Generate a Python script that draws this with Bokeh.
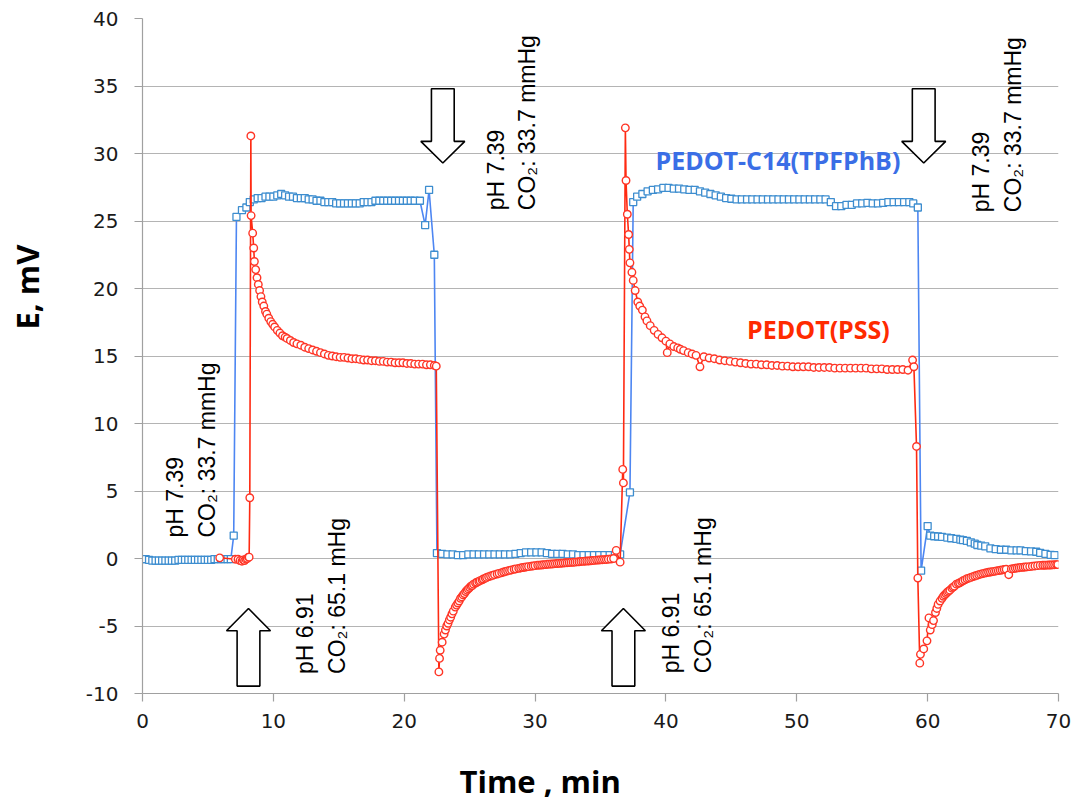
import math
from bokeh.plotting import figure
from bokeh.models import Range1d, FixedTicker, Title, LinearAxis
from bokeh.core.properties import value
from bokeh.embed import file_html
from bokeh.resources import INLINE

# ---------------- data ----------------
blue_t = [0.0, 0.25, 0.5, 0.75, 1.0, 1.25, 1.5, 1.75, 2.0, 2.25, 2.5, 2.75, 3.0, 3.25, 3.5, 3.75,
          4.0, 4.25, 4.5, 4.75, 5.0, 5.25, 5.5, 5.75, 6.0, 6.25, 6.5, 6.75,
          6.97, 7.18, 7.6, 7.94, 8.2, 8.5, 8.8, 9.1, 9.4, 9.7, 10.0, 10.3, 10.6, 10.9, 11.2, 11.5,
          11.8, 12.1, 12.4, 12.7, 13.0, 13.3, 13.6, 13.9, 14.2, 14.5, 14.8, 15.1, 15.4, 15.7, 16.0,
          16.3, 16.6, 16.9, 17.2, 17.5, 17.8, 18.1, 18.4, 18.7, 19.0, 19.3, 19.6, 19.9, 20.2, 20.5,
          20.8, 21.2, 21.6, 21.9, 22.3, 22.5,
          22.9, 23.3, 23.7, 24.1, 24.5, 24.9, 25.3, 25.7, 26.1, 26.5, 26.9, 27.3, 27.7, 28.1, 28.5,
          28.9, 29.3, 29.7, 30.1, 30.5, 30.9, 31.3, 31.7, 32.1, 32.5, 32.9, 33.3, 33.7, 34.1, 34.5,
          34.9, 35.3, 35.7, 36.1, 36.5,
          37.25, 37.5, 37.8, 38.2, 38.6, 39.0, 39.4, 39.8, 40.2, 40.6, 41.0, 41.4, 41.8, 42.2, 42.6,
          43.0, 43.4, 43.8, 44.2, 44.6, 45.0, 45.4, 45.8, 46.2, 46.6, 47.0, 47.4, 47.8, 48.2, 48.6,
          49.0, 49.4, 49.8, 50.2, 50.6, 51.0, 51.4, 51.8, 52.2, 52.6, 53.0, 53.4, 53.8, 54.2, 54.6,
          55.0, 55.4, 55.8, 56.2, 56.6, 57.0, 57.4, 57.8, 58.2, 58.6, 58.9, 59.25,
          59.5, 60.0, 60.2, 60.5, 60.8, 61.1, 61.5, 61.8, 62.2, 62.5, 62.7, 63.0, 63.3, 63.6, 63.8,
          64.1, 64.4, 64.8, 65.2, 65.6, 66.0, 66.4, 66.8, 67.1, 67.5, 67.9, 68.3, 68.6, 69.0, 69.4, 69.7]
blue_e = [-0.05, -0.05, -0.1, -0.15, -0.15, -0.15, -0.15, -0.15, -0.15, -0.15, -0.15, -0.1, -0.1, -0.1, -0.1, -0.1,
          -0.1, -0.1, -0.1, -0.1, -0.1, -0.1, -0.05, -0.05, -0.05, -0.05, -0.05, -0.05,
          1.7, 25.3, 25.8, 26.0, 26.4, 26.6, 26.7, 26.7, 26.8, 26.8, 26.8, 26.9, 27.0, 26.9, 26.8, 26.8,
          26.7, 26.7, 26.7, 26.6, 26.6, 26.5, 26.5, 26.4, 26.4, 26.4, 26.3, 26.3, 26.3, 26.3, 26.3,
          26.3, 26.3, 26.4, 26.4, 26.4, 26.5, 26.5, 26.5, 26.5, 26.5, 26.5, 26.5, 26.5, 26.5, 26.5,
          26.5, 26.5, 24.7, 27.3, 22.5, 0.4,
          0.35, 0.3, 0.3, 0.25, 0.25, 0.3, 0.3, 0.3, 0.3, 0.3, 0.3, 0.3, 0.3, 0.3, 0.35,
          0.4, 0.45, 0.45, 0.45, 0.45, 0.4, 0.35, 0.35, 0.35, 0.3, 0.3, 0.25, 0.25, 0.25, 0.25,
          0.25, 0.25, 0.25, 0.25, 0.3,
          4.9, 26.4, 26.8, 27.0, 27.2, 27.3, 27.35, 27.45, 27.45, 27.4, 27.4, 27.35, 27.3, 27.3, 27.2,
          27.1, 27.0, 26.9, 26.8, 26.7, 26.65, 26.6, 26.6, 26.6, 26.6, 26.6, 26.6, 26.6, 26.6, 26.6,
          26.6, 26.6, 26.6, 26.6, 26.6, 26.6, 26.6, 26.6, 26.6, 26.4, 26.1, 26.1, 26.2, 26.2, 26.3,
          26.3, 26.35, 26.3, 26.3, 26.35, 26.4, 26.4, 26.4, 26.4, 26.4, 26.3, 26.0,
          -0.9, 2.4, 1.7, 1.65, 1.63, 1.6, 1.55, 1.5, 1.45, 1.4, 1.36, 1.3, 1.2, 1.1, 1.0,
          0.95, 0.9, 0.75, 0.7, 0.65, 0.65, 0.6, 0.6, 0.6, 0.55, 0.53, 0.5, 0.42, 0.35, 0.27, 0.25]

red_t = [5.9, 7.1, 7.3, 7.45, 7.6, 7.7, 7.8, 7.9, 8.0, 8.1, 8.15, 8.2, 8.28, 8.3, 8.42, 8.5, 8.55,
         8.65, 8.75, 8.85, 8.95, 9.05, 9.15, 9.27, 9.4, 9.5, 9.65, 9.8, 9.95, 10.1, 10.3, 10.5, 10.7,
         10.9, 11.05, 11.3, 11.55, 11.8, 12.1, 12.4, 12.7, 13.0, 13.3, 13.6, 13.9, 14.2, 14.5, 14.8,
         15.1, 15.4, 15.7, 16.0, 16.3, 16.6, 16.9, 17.2, 17.5, 17.8, 18.1, 18.4, 18.7, 19.0, 19.3,
         19.6, 19.9, 20.2, 20.5, 20.8, 21.1, 21.4, 21.7, 22.0, 22.3, 22.45,
         22.65, 22.7, 22.75, 22.9, 23.05, 23.15, 23.25, 23.35, 23.45, 23.55, 23.65, 23.75, 23.9, 24.0,
         24.1, 24.2, 24.3, 24.4, 24.5, 24.6, 24.7, 24.8, 24.9, 25.0, 25.1, 25.2, 25.3, 25.45, 25.55,
         25.7, 25.8, 25.95, 26.05, 26.2, 26.3, 26.45, 26.6, 26.75, 26.9, 27.1, 27.25, 27.45, 27.6,
         27.75, 27.9, 28.05, 28.2, 28.4, 28.55, 28.75, 28.9, 29.05, 29.2, 29.35, 29.5, 29.7, 29.85,
         30.0, 30.2, 30.35, 30.5, 30.65, 30.8, 30.95, 31.1, 31.25, 31.4, 31.55, 31.7, 31.85, 32.0,
         32.15, 32.3, 32.45, 32.6, 32.75, 32.9, 33.05, 33.2, 33.35, 33.5, 33.65, 33.8, 33.95, 34.1,
         34.25, 34.4, 34.55, 34.7, 34.85, 35.0, 35.15, 35.3, 35.45, 35.6, 35.8, 36.0, 36.2, 36.5,
         36.7, 36.75, 36.9, 36.95, 37.05, 37.15, 37.2, 37.25, 37.4, 37.5, 37.65, 37.85, 38.0, 38.2,
         38.4, 38.55, 38.8, 39.1, 39.4, 39.7, 40.0, 40.1, 40.3, 40.6, 40.9, 41.1, 41.35, 41.7, 42.0,
         42.3, 42.6, 42.9, 43.3, 43.7, 44.1, 44.5, 44.9, 45.3, 45.7, 46.1, 46.5, 46.9, 47.3, 47.7,
         48.1, 48.5, 48.9, 49.3, 49.7, 50.1, 50.5, 50.9, 51.3, 51.7, 52.1, 52.5, 52.9, 53.3, 53.7,
         54.1, 54.5, 54.9, 55.3, 55.7, 56.1, 56.5, 56.9, 57.3, 57.7, 58.1, 58.5, 58.85, 58.95,
         59.15, 59.25, 59.4, 59.45, 59.7, 59.95, 60.1, 60.2, 60.35, 60.45, 60.6, 60.7, 60.8, 60.95,
         61.1, 61.2, 61.3, 61.4, 61.5, 61.6, 61.7, 61.85, 61.95, 62.05, 62.2, 62.35, 62.45, 62.6,
         62.7, 62.85, 63.0, 63.15, 63.3, 63.45, 63.6, 63.75, 63.9, 64.05, 64.2, 64.35, 64.5, 64.65,
         64.8, 64.95, 65.1, 65.25, 65.4, 65.55, 65.7, 65.85, 66.0, 66.2, 66.4, 66.55, 66.7, 66.85,
         67.0, 67.15, 67.3, 67.45, 67.6, 67.8, 68.0, 68.2, 68.4, 68.6, 68.8, 68.95, 69.1, 69.25,
         69.4, 69.55, 69.7, 69.85, 69.95]
red_e = [0.05, -0.05, -0.05, -0.15, -0.2, -0.1, -0.15, -0.05, 0.0, 0.1, 0.1, 4.5, 31.3, 25.4, 24.1, 23.0, 22.0,
         21.4, 20.8, 20.3, 19.85, 19.4, 19.0, 18.7, 18.3, 18.1, 17.8, 17.55, 17.35, 17.15, 16.9, 16.7, 16.5,
         16.4, 16.3, 16.15, 16.0, 15.9, 15.8, 15.65, 15.55, 15.45, 15.35, 15.25, 15.15, 15.05, 15.0, 14.95,
         14.9, 14.9, 14.85, 14.8, 14.8, 14.75, 14.7, 14.7, 14.65, 14.65, 14.6, 14.6, 14.55, 14.55, 14.5,
         14.5, 14.5, 14.45, 14.45, 14.4, 14.4, 14.4, 14.35, 14.35, 14.3, 14.25,
         -8.4, -7.4, -6.8, -6.2, -5.6, -5.3, -5.0, -4.8, -4.55, -4.35, -4.1, -3.9, -3.6, -3.45,
         -3.3, -3.15, -2.95, -2.85, -2.7, -2.6, -2.45, -2.35, -2.25, -2.15, -2.05, -2.0, -1.9, -1.82, -1.76,
         -1.7, -1.64, -1.58, -1.52, -1.46, -1.4, -1.35, -1.3, -1.25, -1.2, -1.15, -1.1, -1.05, -1.0,
         -0.96, -0.92, -0.88, -0.85, -0.8, -0.77, -0.73, -0.7, -0.67, -0.65, -0.62, -0.6, -0.57, -0.55,
         -0.53, -0.5, -0.49, -0.48, -0.46, -0.45, -0.43, -0.42, -0.41, -0.4, -0.38, -0.37, -0.36, -0.35,
         -0.34, -0.32, -0.31, -0.3, -0.29, -0.28, -0.27, -0.25, -0.24, -0.22, -0.21, -0.2, -0.19, -0.18,
         -0.17, -0.15, -0.14, -0.12, -0.11, -0.1, -0.09, -0.08, -0.07, -0.05, -0.04, 0.0, 0.6, -0.27,
         6.6, 5.6, 31.9, 28.0, 25.5, 24.0, 22.9, 21.9, 21.2, 20.6, 19.85, 19.0, 18.7, 18.4,
         17.9, 17.6, 17.25, 16.9, 16.6, 16.35, 16.1, 15.25, 15.9, 15.7, 15.6, 15.5, 15.4, 15.25, 15.15,
         15.05, 14.2, 14.95, 14.85, 14.8, 14.7, 14.65, 14.6, 14.55, 14.5, 14.45, 14.4, 14.4, 14.35, 14.35,
         14.3, 14.3, 14.25, 14.25, 14.2, 14.2, 14.2, 14.2, 14.15, 14.15, 14.15, 14.15, 14.1, 14.1, 14.1,
         14.1, 14.1, 14.1, 14.1, 14.05, 14.05, 14.05, 14.0, 14.0, 14.0, 14.0, 13.95, 14.7, 14.2,
         8.3, -1.45, -7.75, -7.1, -6.7, -6.1, -4.4, -5.3, -4.9, -4.6, -4.0, -3.7, -3.4, -3.15,
         -2.95, -2.8, -2.7, -2.6, -2.5, -2.42, -2.35, -2.2, -2.12, -2.05, -1.9, -1.85, -1.8, -1.72,
         -1.65, -1.58, -1.5, -1.45, -1.4, -1.35, -1.3, -1.25, -1.2, -1.16, -1.12, -1.08, -1.05, -1.02,
         -1.0, -0.97, -0.95, -0.92, -0.9, -0.87, -0.85, -0.82, -0.8, -1.2, -0.77, -0.75, -0.72, -0.7,
         -0.68, -0.66, -0.65, -0.63, -0.62, -0.6, -0.57, -0.55, -0.53, -0.51, -0.5, -0.5, -0.49, -0.48,
         -0.48, -0.47, -0.46, -0.45, -0.45]

x_ticks = [0, 10, 20, 30, 40, 50, 60, 70]
y_ticks = [-10, -5, 0, 5, 10, 15, 20, 25, 30, 35, 40]

# event arrows (time of gas change)
arrow_up_t = [8.1, 36.75]
arrow_down_t = [22.95, 59.7]

# rotated annotation texts
ann_text = ["pH 7.39", "CO\u2082: 33.7 mmHg",
            "pH 6.91", "CO\u2082: 65.1 mHg",
            "pH 7.39", "CO\u2082: 33.7 mmHg",
            "pH 6.91", "CO\u2082: 65.1 mHg",
            "pH 7.39", "CO\u2082: 33.7 mmHg"]
ann_t = [2.5, 4.9, 12.4, 14.85, 27.0, 29.35, 40.4, 42.85, 64.1, 66.55]
ann_y = [1.55, 1.55, -8.55, -8.55, 25.8, 25.8, -8.5, -8.5, 25.65, 25.65]

BLUE_LINE = "#4d86f2"
BLUE_MARK = "#3d8dcf"
RED_LINE = "#ff2a12"
RED_MARK = "#ff3526"
GRID = "#b4b4b4"

p = figure(frame_width=916, frame_height=675,
           x_range=Range1d(0, 70), y_range=Range1d(-10, 40),
           output_backend="svg", toolbar_location=None,
           min_border_left=142, min_border_right=17, min_border_top=18, min_border_bottom=110)
p.outline_line_color = None
p.background_fill_color = "white"
p.border_fill_color = "white"

p.xgrid.visible = False
p.ygrid.ticker = FixedTicker(ticks=y_ticks)
p.ygrid.grid_line_color = GRID
p.ygrid.grid_line_width = 1

for ax, ticks in ((p.xaxis, x_ticks), (p.yaxis, y_ticks)):
    ax.ticker = FixedTicker(ticks=ticks)
    ax.axis_line_color = "#a0a0a0"
    ax.axis_line_width = 1.2
    ax.major_tick_line_color = "#a0a0a0"
    ax.major_tick_line_width = 1.2
    ax.major_tick_in = 0
    ax.major_tick_out = 8
    ax.minor_tick_line_color = None
    ax.major_label_text_font = "DejaVu Sans"
    ax.major_label_text_font_size = "20px"
    ax.major_label_text_color = "#1a1a1a"
    ax.major_label_overrides = {t: str(t) for t in ticks}
p.yaxis.major_label_standoff = 16
p.xaxis.major_label_standoff = 12


def spacer(size, tick):
    # an invisible axis used only to reserve room between the tick labels and the axis title
    return LinearAxis(ticker=FixedTicker(ticks=[tick]), axis_line_color=None,
                      major_tick_line_color="white", major_tick_line_alpha=0.0,
                      minor_tick_line_color=None,
                      major_tick_in=0, major_tick_out=size, major_label_standoff=0,
                      major_label_text_font_size="1px", major_label_text_alpha=0.0,
                      major_label_overrides={tick: ""})


# arrows
ah_half, sh_half = 1.68, 0.87
for t in arrow_up_t:
    xs = [t, t + ah_half, t + sh_half, t + sh_half, t - sh_half, t - sh_half, t - ah_half]
    ys = [-3.7, -5.35, -5.35, -9.45, -9.45, -5.35, -5.35]
    p.patch(xs, ys, fill_color="white", line_color="black", line_width=1.6)
for t in arrow_down_t:
    xs = [t, t + ah_half, t + sh_half, t + sh_half, t - sh_half, t - sh_half, t - ah_half]
    ys = [29.3, 30.9, 30.9, 34.8, 34.8, 30.9, 30.9]
    p.patch(xs, ys, fill_color="white", line_color="black", line_width=1.6)

# series
p.line(blue_t, blue_e, line_color=BLUE_LINE, line_width=1.6)
p.scatter(blue_t, blue_e, marker="square", size=7, line_color=BLUE_MARK, fill_color="white", line_width=1.3)
p.line(red_t, red_e, line_color=RED_LINE, line_width=1.6)
p.scatter(red_t, red_e, marker="circle", size=7.5, line_color=RED_MARK, fill_color="white", line_width=1.4)

# annotations
p.text(x=ann_t, y=ann_y, text=ann_text, angle=math.pi / 2,
       text_font=value("Liberation Sans"), text_font_size="23px",
       text_align="left", text_baseline="middle", text_color="black")

p.text(x=[39.2], y=[29.5], text=["PEDOT-C14(TPFPhB)"], text_font=value("Open Sans"),
       text_font_style="bold", text_font_size="25px", text_color="#3a6ee6",
       text_align="left", text_baseline="middle")
p.text(x=[46.2], y=[17.0], text=["PEDOT(PSS)"], text_font=value("Open Sans"),
       text_font_style="bold", text_font_size="25px", text_color="#ff2a00",
       text_align="left", text_baseline="middle")

# axis titles as side titles, shifted along the axis like the reference
p.add_layout(spacer(35, 15), "left")
p.add_layout(Title(text="E, mV", align="left", offset=364, standoff=0,
                   text_font="Open Sans", text_font_style="bold", text_font_size="31px",
                   text_color="black"), "left")
p.add_layout(spacer(27, 35), "below")
p.add_layout(Title(text="Time , min", align="left", offset=317, standoff=0,
                   text_font="Open Sans", text_font_style="bold", text_font_size="31px",
                   text_color="black"), "below")

open("out.html", "w").write(file_html(p, INLINE))
